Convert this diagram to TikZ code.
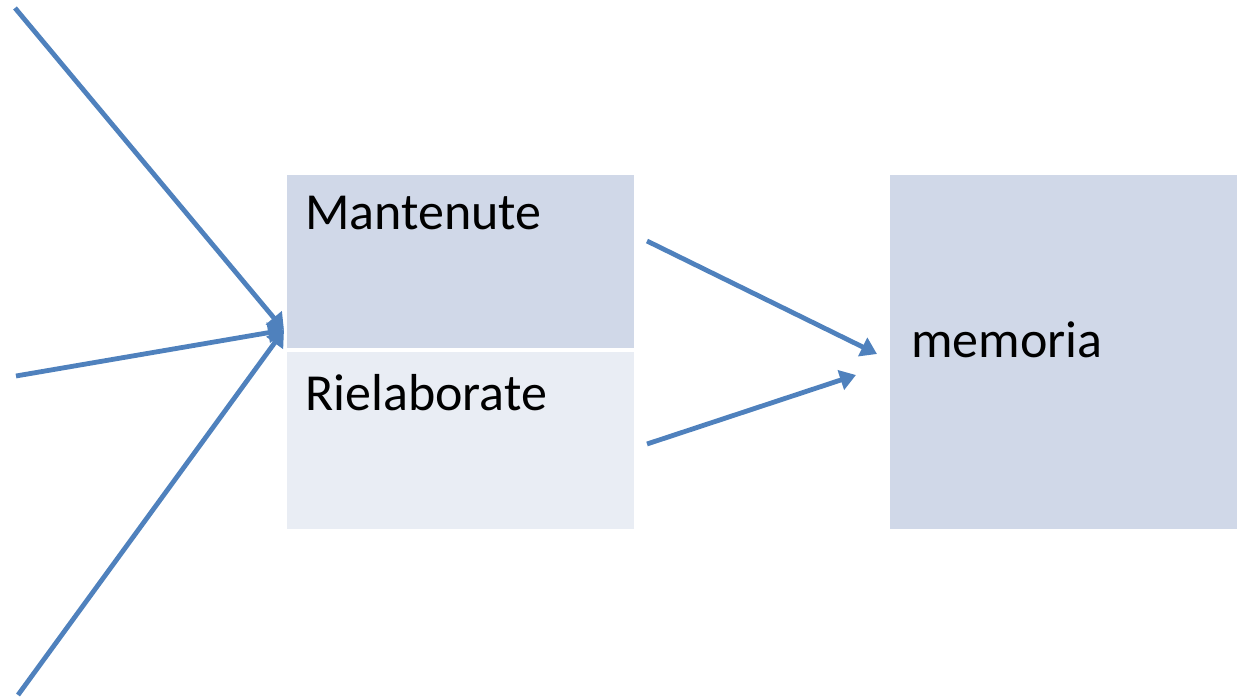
\documentclass[tikz,border=0pt]{standalone}
\usepackage{fontspec}
\setmainfont{Carlito}
\usetikzlibrary{arrows.meta}
\definecolor{arrowblue}{HTML}{4F81BD}
\definecolor{boxdark}{HTML}{D0D8E8}
\definecolor{boxlight}{HTML}{E9EDF4}
\begin{document}
\begin{tikzpicture}[x=0.75pt,y=-0.75pt,
  box/.style={draw=none,inner sep=0,outer sep=0,anchor=north west},
  lbl/.style={inner sep=0,anchor=base west,font=\fontsize{39pt}{46pt}\selectfont},
  conn/.style={draw=arrowblue,line width=3.6pt,-{Triangle[length=12pt,width=15pt]}}]
\useasboundingbox (0,0) rectangle (1243,698);
\node[box,fill=boxdark,minimum width=347*0.75pt,minimum height=173*0.75pt] (mant) at (287,175) {};
\node[box,fill=boxlight,minimum width=347*0.75pt,minimum height=177*0.75pt] (riel) at (287,352) {};
\node[box,fill=boxdark,minimum width=347*0.75pt,minimum height=354*0.75pt] (mem) at (890,175) {};
\node[lbl] (tmant) at (305,230) {Mantenute};
\node[lbl] (triel) at (305,411) {Rielaborate};
\node[lbl] (tmem) at (911,358) {memoria};
\coordinate (s1) at (15,8);
\coordinate (s2) at (16,376);
\coordinate (s3) at (18,695);
\coordinate (t1) at (284,330);
\coordinate (s4) at (647,241);
\coordinate (t4) at (877,354);
\coordinate (s5) at (647,444);
\coordinate (t5) at (856,375);
\draw[conn] (s1) -- (t1);
\draw[conn] (s2) -- (t1);
\draw[conn] (s3) -- (t1);
\draw[conn] (s4) -- (t4);
\draw[conn] (s5) -- (t5);
\end{tikzpicture}
\end{document}
